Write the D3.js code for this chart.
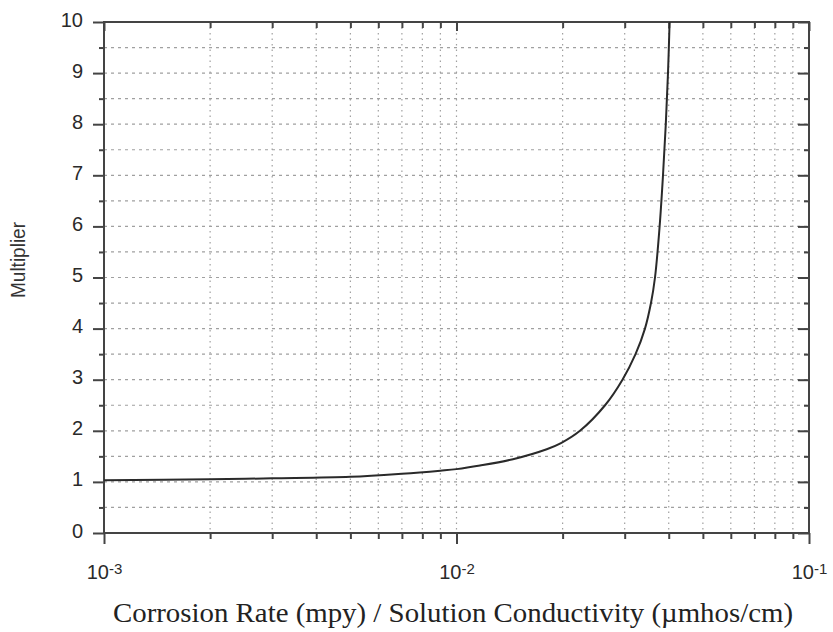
<!DOCTYPE html>
<html>
<head>
<meta charset="utf-8">
<script src="https://cdn.jsdelivr.net/npm/d3@7"></script>
<style>
  body { margin: 0; background: #fff; }
  svg { display: block; }
</style>
</head>
<body>
<svg id="chart" width="833" height="632"></svg>
<script>
// curve
let ratio = [0.001, 0.002, 0.003, 0.005, 0.007, 0.009, 0.010, 0.01166, 0.01446, 0.01803, 0.01979, 0.0224, 0.02639, 0.02957, 0.0322, 0.03425, 0.03562, 0.03657, 0.03769, 0.03853, 0.03924, 0.03981, 0.04023];
let multiplier = [1.03, 1.05, 1.07, 1.10, 1.16, 1.22, 1.25, 1.32, 1.445, 1.64, 1.76, 2.0, 2.5, 3.0, 3.5, 4.0, 4.5, 5.0, 6.0, 7.0, 8.0, 9.0, 10.0];

let xMajor = [0.001, 0.01, 0.1];
let xExponents = ["-3", "-2", "-1"];
let xMinor = [0.002, 0.003, 0.004, 0.005, 0.006, 0.007, 0.008, 0.009, 0.02, 0.03, 0.04, 0.05, 0.06, 0.07, 0.08, 0.09];
let yMajor = [0, 1, 2, 3, 4, 5, 6, 7, 8, 9, 10];
let yMinor = [0.5, 1.5, 2.5, 3.5, 4.5, 5.5, 6.5, 7.5, 8.5, 9.5];

let svg = d3.select("svg#chart");
let padding = { "top": 22, "bottom": 99, "left": 104, "right": 24 };
let width = 833 - padding.left - padding.right;
let height = 632 - padding.top - padding.bottom;

let g = svg.append("g").attr("transform", "translate(" + padding.left + "," + padding.top + ")");

let xScale = d3.scaleLog().domain([0.001, 0.1]).range([0, width]);
let yScale = d3.scaleLinear().domain([0, 10]).range([height, 0]);

let axisColor = "#444";
let gridColor = "#a0a0a0";

// gridlines
g.append("g").selectAll("line")
    .data(xMajor.slice(1, 2).concat(xMinor))
    .enter().append("line")
    .attr("x1", d => xScale(d)).attr("x2", d => xScale(d))
    .attr("y1", 0).attr("y2", height)
    .attr("stroke", gridColor).attr("stroke-width", 1.2)
    .attr("stroke-dasharray", "1.5,4");

g.append("g").selectAll("line")
    .data(yMajor.slice(1, 10).concat(yMinor))
    .enter().append("line")
    .attr("x1", 0).attr("x2", width)
    .attr("y1", d => yScale(d)).attr("y2", d => yScale(d))
    .attr("stroke", gridColor).attr("stroke-width", 1.2)
    .attr("stroke-dasharray", "3,4");

// axes
function styleAxis(sel) {
    sel.selectAll("path.domain").remove();
    sel.selectAll(".tick line").attr("stroke", axisColor).attr("stroke-width", 2);
}

let bottomMajor = g.append("g").attr("transform", "translate(0," + height + ")")
    .call(d3.axisBottom(xScale).tickValues(xMajor).tickSize(11).tickFormat(""));
styleAxis(bottomMajor);
bottomMajor.selectAll(".tick").each(function (d, i) {
    let t = d3.select(this).append("text")
        .attr("y", 46)
        .attr("fill", "#2a2a2a")
        .style("font-family", "Arial, 'Liberation Sans', sans-serif")
        .style("font-size", "20px")
        .attr("text-anchor", "middle");
    t.append("tspan").text("10");
    t.append("tspan").attr("dy", -5).style("font-size", "15px").text(xExponents[i]);
});
styleAxis(g.append("g").attr("transform", "translate(0," + height + ")")
    .call(d3.axisBottom(xScale).tickValues(xMinor).tickSize(6).tickFormat("")));
styleAxis(g.append("g")
    .call(d3.axisBottom(xScale).tickValues(xMajor).tickSize(9).tickFormat("")));
styleAxis(g.append("g")
    .call(d3.axisBottom(xScale).tickValues(xMinor).tickSize(6).tickFormat("")));

let leftMajor = g.append("g")
    .call(d3.axisLeft(yScale).tickValues(yMajor).tickSize(11).tickPadding(10));
styleAxis(leftMajor);
leftMajor.selectAll(".tick text")
    .attr("fill", "#2a2a2a")
    .attr("dy", "0.2em")
    .style("font-family", "Arial, 'Liberation Sans', sans-serif")
    .style("font-size", "20px");
styleAxis(g.append("g")
    .call(d3.axisLeft(yScale).tickValues(yMinor).tickSize(5).tickFormat("")));
styleAxis(g.append("g").attr("transform", "translate(" + width + ",0)")
    .call(d3.axisLeft(yScale).tickValues(yMajor).tickSize(11).tickFormat("")));
styleAxis(g.append("g").attr("transform", "translate(" + width + ",0)")
    .call(d3.axisLeft(yScale).tickValues(yMinor).tickSize(5).tickFormat("")));

// frame
g.append("rect")
    .attr("x", 0).attr("y", 0).attr("width", width).attr("height", height)
    .attr("fill", "none").attr("stroke", axisColor).attr("stroke-width", 2);

// curve
let points = ratio.map((d, i) => ({ x: d, y: multiplier[i] }));
let line = d3.line().x(d => xScale(d.x)).y(d => yScale(d.y)).curve(d3.curveCatmullRom.alpha(0.5));
g.append("path").datum(points)
    .attr("d", line)
    .attr("fill", "none")
    .attr("stroke", "#2a2a2a")
    .attr("stroke-width", 2);

// axis titles
svg.append("text")
    .attr("transform", "translate(25,260)rotate(-90)")
    .attr("text-anchor", "middle")
    .attr("fill", "#333")
    .attr("textLength", 76)
    .attr("lengthAdjust", "spacingAndGlyphs")
    .style("font-family", "Arial, 'Liberation Sans', sans-serif")
    .style("font-size", "21px")
    .text("Multiplier");

svg.append("text")
    .attr("x", 453).attr("y", 622)
    .attr("text-anchor", "middle")
    .attr("fill", "#222")
    .attr("textLength", 680)
    .attr("lengthAdjust", "spacingAndGlyphs")
    .style("font-family", "'Times New Roman', 'Liberation Serif', serif")
    .style("font-size", "28px")
    .text("Corrosion Rate (mpy) / Solution Conductivity (µmhos/cm)");
</script>
</body>
</html>
